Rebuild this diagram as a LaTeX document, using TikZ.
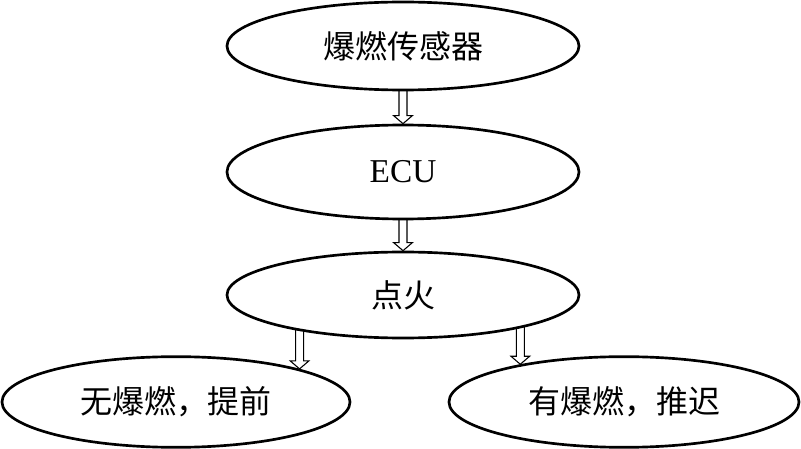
\documentclass[tikz,border=0pt]{standalone}
\usepackage{fontspec}
\setmainfont{Liberation Serif}
\newfontfamily\cjk{Noto Sans CJK SC}
\usetikzlibrary{shapes.geometric,calc,backgrounds}

\begin{document}
\begin{tikzpicture}[
  x=0.75pt, y=-0.75pt,
  oval/.style={draw, ellipse, line width=2pt, fill=white, inner sep=0pt,
               minimum width=264pt, minimum height=66pt,
               font=\fontsize{24}{28}\selectfont\cjk},
  blockarrow/.style={draw, line width=0.8pt, fill=white,
    to path={let \p1=(\tikztostart), \p2=(\tikztotarget) in
      (\x2-3pt,\y1) -- (\x2-3pt,\y2+6pt) -- (\x2-7pt,\y2+6pt) -- (\x2,\y2)
      -- (\x2+7pt,\y2+6pt) -- (\x2+3pt,\y2+6pt) -- (\x2+3pt,\y1) -- cycle}},
]
  \useasboundingbox (0,0) rectangle (801,449);

  % Sensor
  \node[oval] (sensor) at (403,46) {爆燃传感器};

  % ECU
  \node[oval, minimum height=70.5pt, font=\fontsize{25}{28}\selectfont] (ecu) at (403,172) {ECU};

  % Ignition
  \node[oval, minimum height=64.5pt] (fire) at (403,295) {点火};

  % Outcomes row
  \node[oval, minimum width=261pt, minimum height=68pt] (noknock) at (176,402) {无爆燃，提前};
  \node[oval, minimum width=262.5pt, minimum height=68pt] (knock) at (624,402) {有爆燃，推迟};

  % Arrows
  \begin{scope}[on background layer]
    \draw[blockarrow] (sensor.center) to (ecu.north);
    \draw[blockarrow] (ecu.center) to (fire.north);
    \draw[blockarrow] (noknock.15 |- fire.center) to (noknock.15);
    \draw[blockarrow] (knock.160 |- fire.center) to (knock.160);
  \end{scope}
\end{tikzpicture}
\end{document}
